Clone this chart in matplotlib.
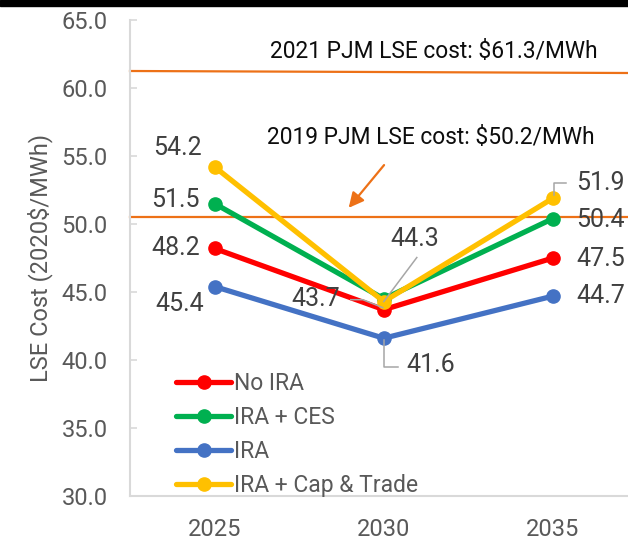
import matplotlib
matplotlib.use("Agg")
import matplotlib.pyplot as plt
from matplotlib.patches import Rectangle
import numpy as np

plt.rcParams['font.family'] = ['Roboto', 'DejaVu Sans']

# ---- data ----
years = ["2025", "2030", "2035"]
no_ira = [48.2, 43.7, 47.5]
ira_ces = [51.5, 44.5, 50.4]
ira = [45.4, 41.6, 44.7]
ira_cap = [54.2, 44.3, 51.9]
ref_2021 = [61.25, 61.1]    # line as drawn (slight slope)
ref_2019 = [50.5, 50.5]     # line as drawn
ref_2021_text = "2021 PJM LSE cost: $61.3/MWh"
ref_2019_text = "2019 PJM LSE cost: $50.2/MWh"
y_ticks = [30, 35, 40, 45, 50, 55, 60, 65]

series = [
    ("No IRA", no_ira, "#FF0000"),
    ("IRA + CES", ira_ces, "#00B050"),
    ("IRA", ira, "#4472C4"),
    ("IRA + Cap & Trade", ira_cap, "#FFC000"),
]

W, H = 628, 540
fig = plt.figure(figsize=(W / 100, H / 100), dpi=100)
ax = fig.add_axes([130 / W, 44 / H, 507.6 / W, 476 / H])
x = np.arange(len(years))

ax.set_xlim(-0.5, 2.5)
ax.set_ylim(30, 65)

orange = "#ED7117"
ax.plot([-0.5, 2.5], ref_2021, color=orange, lw=1.6, zorder=1, clip_on=False)
ax.plot([-0.5, 2.5], ref_2019, color=orange, lw=1.6, zorder=1, clip_on=False)

for name, vals, col in series:
    ax.plot(x, vals, color=col, lw=3.8, marker="o", ms=9.5, label=name, zorder=3,
            solid_capstyle="round")

ax.set_yticks(y_ticks)
ax.set_yticklabels([f"{v:.1f}" for v in y_ticks])
ax.set_xticks(x)
ax.set_xticklabels(years)
ax.tick_params(axis="y", direction="in", length=5, width=1.2, color="#D9D9D9",
               labelsize=17, labelcolor="#595959", pad=16)
ax.tick_params(axis="x", length=0, labelsize=17, labelcolor="#595959", pad=16)
for s in ["top", "right"]:
    ax.spines[s].set_visible(False)
for s in ["left", "bottom"]:
    ax.spines[s].set_color("#D9D9D9")
    ax.spines[s].set_linewidth(1.5)
ax.set_ylabel("LSE Cost (2020$/MWh)", fontsize=17, color="#595959", labelpad=6)

# reference texts and arrow
fig.text(433.5 / W, 1 - 51.7 / H, ref_2021_text, fontsize=16.4, color="#0D0D0D",
         ha="center", va="center")
fig.text(431 / W, 1 - 138 / H, ref_2019_text, fontsize=16.4, color="#0D0D0D",
         ha="center", va="center")
ax.annotate("", xy=(0.782, 51.03), xytext=(1.012, 54.49),
            arrowprops=dict(arrowstyle="-|>,head_length=0.9,head_width=0.45",
                            color=orange, lw=1.6))

# data labels
fig.canvas.draw()
lab_col = "#404040"
gray = "#A6A6A6"

def disp(i, v):
    return ax.transData.transform((i, v))

def label(i, v, dx, dy, ha, leader=None):
    # dx, dy in pixels (dy positive = down in image)
    px, py = disp(i, v)
    fig.text((px + dx) / W, (py - dy) / H, f"{v:.1f}", fontsize=18, color=lab_col,
             ha=ha, va="center")
    if leader:
        xs = [(px + a) / W for a, b in leader]
        ys = [(py - b) / H for a, b in leader]
        fig.add_artist(plt.Line2D(xs, ys, color=gray, lw=1.1, zorder=4))

# 2025
label(0, ira_cap[0], -13, -19, "right")
label(0, ira_ces[0], -15, -4, "right")
label(0, no_ira[0], -15, 0, "right")
label(0, ira[0], -10, 17, "right")
# 2030
label(1, ira_cap[1], 7, -63, "left", leader=[(0, 0), (33, -44)])
label(1, no_ira[1], -44, -11, "right", leader=[(-33, -10), (-21, -10), (-1, -2)])
label(1, ira[1], 23, 27, "left", leader=[(0.7, 2), (0.7, 28.7), (14, 28.7)])
# 2035
label(2, ira_cap[2], 23, -15.6, "left", leader=[(1, -3), (1, -15.5), (13, -15.5)])
label(2, ira_ces[2], 23, 1, "left")
label(2, no_ira[2], 23, 1, "left")
label(2, ira[2], 23, -0.5, "left")

leg = ax.legend(loc="upper left", bbox_to_anchor=(176 / W, (540 - 372) / H),
                bbox_transform=fig.transFigure, frameon=False, fontsize=16.5,
                handlelength=2.4, handletextpad=0.15, labelspacing=0.48,
                borderpad=0, borderaxespad=0, numpoints=1)
for t in leg.get_texts():
    t.set_color("#595959")

fig.add_artist(Rectangle((0, 1 - 6 / H), 1, 6 / H, transform=fig.transFigure,
                         color="black", zorder=10))

fig.savefig("out.png", dpi=100)
